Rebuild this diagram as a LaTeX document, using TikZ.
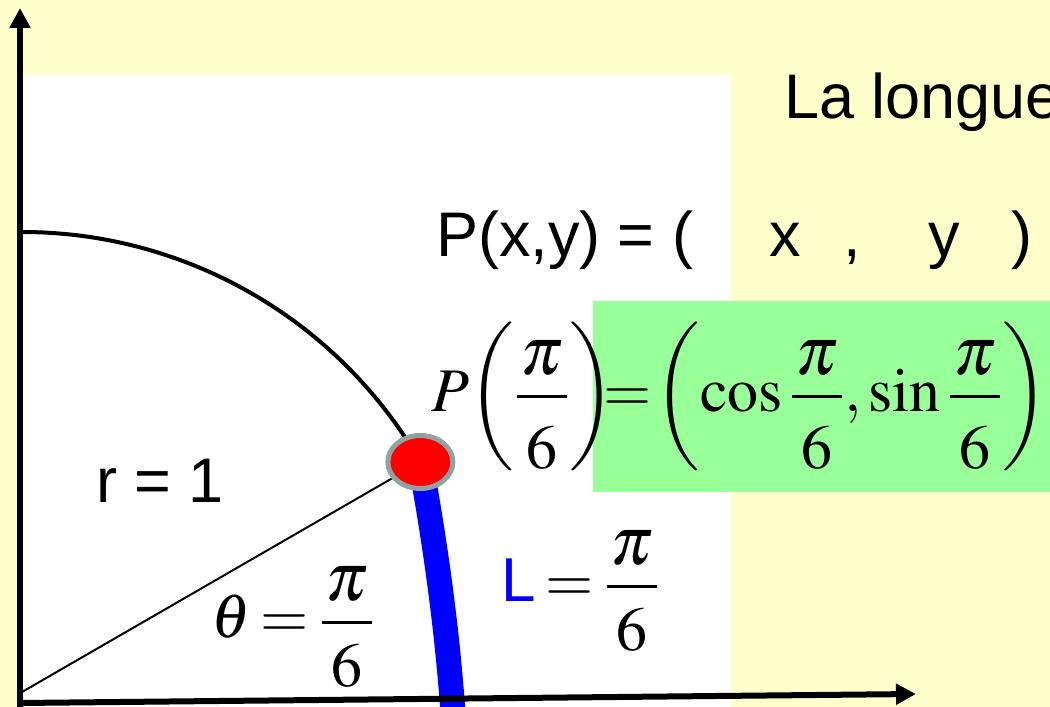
\documentclass[tikz,border=0pt]{standalone}
\usepackage{amsmath}
\usepackage{mathptmx}
\usepackage[no-math]{fontspec}
\newfontfamily\arialfont{Liberation Sans}
\usetikzlibrary{arrows.meta,shapes.geometric,calc}
\definecolor{slideYellow}{HTML}{FFFFCC}
\definecolor{slideGreen}{HTML}{99FF99}
\definecolor{dotRed}{HTML}{FF0000}
\definecolor{dotRim}{HTML}{8FA3A3}
\definecolor{arcBlue}{HTML}{0000FF}
\thickmuskip=3mu
\newcommand{\PiSixth}[1][7pt]{\dfrac{\mkern1mu\raisebox{-2pt}{\scalebox{1.1}{$\pi$}}\mkern1mu}{\raisebox{-#1}{$6$}}}
\tikzset{
  trig slide/.style={
    x=0.5pt, y=0.5pt, line cap=butt,
    >={Triangle[length=10pt,width=10pt]},
    every node/.style={inner sep=0pt, outer sep=0pt,
      font=\fontsize{31}{37}\selectfont}
  },
  trig axis/.style={line width=3pt, ->},
  trig radius/.style={line width=1pt},
  trig arc/.style={line width=2pt},
  trig length/.style={line width=12.5pt, draw=arcBlue},
  trig dot/.style={ellipse, fill=dotRed, draw=dotRim, line width=2.5pt,
    minimum width=32.5pt, minimum height=26.5pt},
  sans label/.style={anchor=base west, font=\arialfont\fontsize{31.5}{38}\selectfont},
  math label/.style={anchor=base west}
}

\begin{document}
\begin{tikzpicture}[trig slide]
    \useasboundingbox (0,0) rectangle (1050,707);
    \clip (0,0) rectangle (1050,707);
    \fill[slideYellow] (0,0) rectangle (1050,707);
    \fill[white] (23,0) rectangle (731,632);
    \fill[slideGreen] (593,215) rectangle (1050,406);
    \coordinate (O) at (22,15);
    \coordinate (Ptop) at (22,475);
    \coordinate (P) at ($(O)+(30:460)$);
    \coordinate (Lend) at (453,-6);
    \draw[trig radius] (O) -- (P);
    \draw[trig arc] (Ptop) arc[start angle=90, end angle=30, radius=460];
    \draw[trig length] (P) .. controls (435,165) and (447,80) .. (Lend);
    \node[trig dot] (dot) at (P) {};
    \coordinate (xfrom) at (20,4);
    \coordinate (xto) at (916,13);
    \coordinate (yfrom) at (20,-5);
    \coordinate (yto) at (20,699);
    \draw[trig axis] (yfrom) -- (yto);
    \draw[trig axis] (xfrom) -- (xto);
    \node[sans label] (longue) at (784,588) {La longue};
    \node[sans label] (pxy) at (436,450) {P(x,y) = (};
    \node[sans label] (px) at (769,450) {x};
    \node[sans label] (pcomma) at (843,450) {,};
    \node[sans label] (py) at (928,450) {y};
    \node[sans label] (pclose) at (1011,450) {)};
    \node[sans label] (rone) at (96,204) {r = 1};
    \node[math label] (pleft) at (431,295) {$P{\left(\PiSixth\right)}$};
    \node[math label] (pright) at (603,295)
      {$=\mkern-2mu\left(\cos\PiSixth,\sin\PiSixth\right)$};
    \node[math label] (theta) at (211,69) {$\theta=\PiSixth[3pt]$};
    \node[math label] (lval) at (501,105)
      {{\arialfont\color{arcBlue}L}${}=\PiSixth[3pt]$};
  \end{tikzpicture}
\end{document}
